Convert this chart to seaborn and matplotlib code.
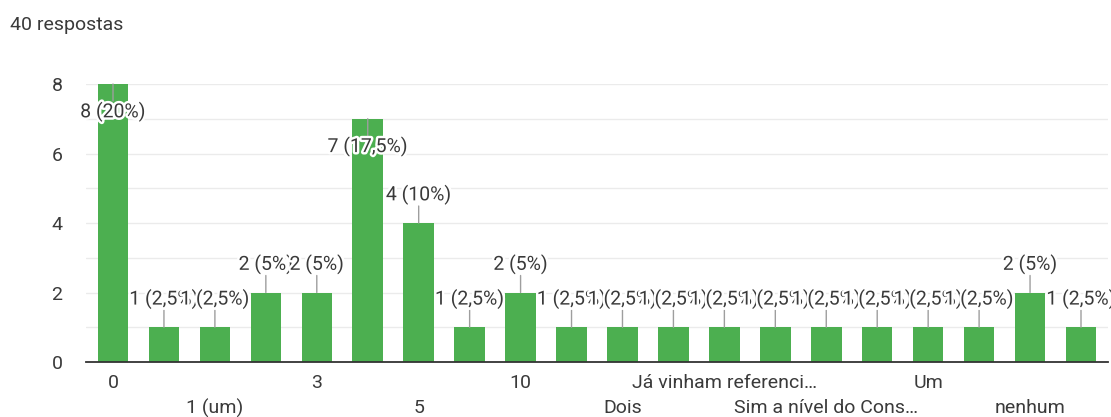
import matplotlib
matplotlib.use("Agg")
import matplotlib.pyplot as plt
import matplotlib.patheffects as pe
import seaborn as sns
import pandas as pd

# ---- data ----
total_responses = 40
categories = ["0", "1", "1 (um)", "2", "3", "4", "5", "6", "10", "Apenas um",
              "Dois", "Duas", "Já vinham referenci…", "Nenhuma",
              "Sim a nível do Cons…", "Três", "Um", "Uma", "nenhum", "um"]
counts = [8, 1, 1, 2, 2, 7, 4, 1, 2, 1, 1, 1, 1, 1, 1, 1, 1, 1, 2, 1]
y_ticks = [0, 2, 4, 6, 8]
title = f"{total_responses} respostas"

GREEN = "#4caf50"
TXT = "#3a3a3a"
FS = 14

sns.set_theme(style="white")
plt.rcParams["font.family"] = ["Roboto", "DejaVu Sans"]

fig = plt.figure(figsize=(11.11, 4.17), dpi=100)
ax = fig.add_axes([86 / 1111, 55 / 417, (1108 - 86) / 1111, (362 - 84) / 417])

df = pd.DataFrame({"cat": categories, "n": counts})
sns.barplot(data=df, x="cat", y="n", order=categories, color=GREEN,
            saturation=1, width=0.6, linewidth=0, ax=ax, zorder=2)

ymax = max(y_ticks)
ax.set_ylim(0, ymax)
ax.set_xlim(-0.53, len(categories) - 1 + 0.53)
ax.set_yticks(y_ticks)
ax.set_yticks([v for v in range(1, ymax, 2)], minor=True)
ax.grid(True, axis="y", which="both", color="#ebebeb", linewidth=1, zorder=0)
ax.set_axisbelow(True)
for s in ["top", "right", "left"]:
    ax.spines[s].set_visible(False)
ax.spines["bottom"].set_color("#333333")
ax.spines["bottom"].set_linewidth(1.3)
ax.spines["bottom"].set_zorder(3)
ax.tick_params(axis="y", which="both", length=0, pad=17, labelsize=FS, labelcolor=TXT)
ax.set_xticks(range(len(categories)))
ax.set_xticklabels([""] * len(categories))
ax.tick_params(axis="x", length=0)
ax.set_xlabel("")
ax.set_ylabel("")

# category labels: every other bar, alternating rows
xtr = ax.get_xaxis_transform()
for i, c in enumerate(categories):
    if i % 2 == 1:
        continue
    row = (i // 2) % 2
    ax.annotate(c, xy=(i, 0), xycoords=xtr, xytext=(0, -21 - 25 * row),
                textcoords="offset pixels", ha="center", va="center",
                fontsize=FS, color=TXT, annotation_clip=False)

# value labels with leader lines
halo = [pe.withStroke(linewidth=3.5, foreground="white")]
for i, v in enumerate(counts):
    below = v > ymax - 1.05
    sign = -1 if below else 1
    ax.annotate("", xy=(i, v), xytext=(0, sign * 17), textcoords="offset pixels",
                arrowprops=dict(arrowstyle="-", color="#9e9e9e", lw=1,
                                shrinkA=0, shrinkB=0),
                annotation_clip=False, zorder=4)
for i, v in enumerate(counts):
    pct = v / total_responses * 100
    label = f"{v} ({pct:g}%)".replace(".", ",")
    below = v > ymax - 1.05
    sign = -1 if below else 1
    ax.annotate(label, xy=(i, v), xytext=(0, sign * 28), textcoords="offset pixels",
                ha="center", va="center", fontsize=FS, color=TXT,
                path_effects=halo, annotation_clip=False, zorder=5)

fig.text(10 / 1111, 1 - 25 / 417, title, ha="left", va="center",
         fontsize=FS, color=TXT)

fig.savefig("out.png", dpi=100, facecolor="white")
